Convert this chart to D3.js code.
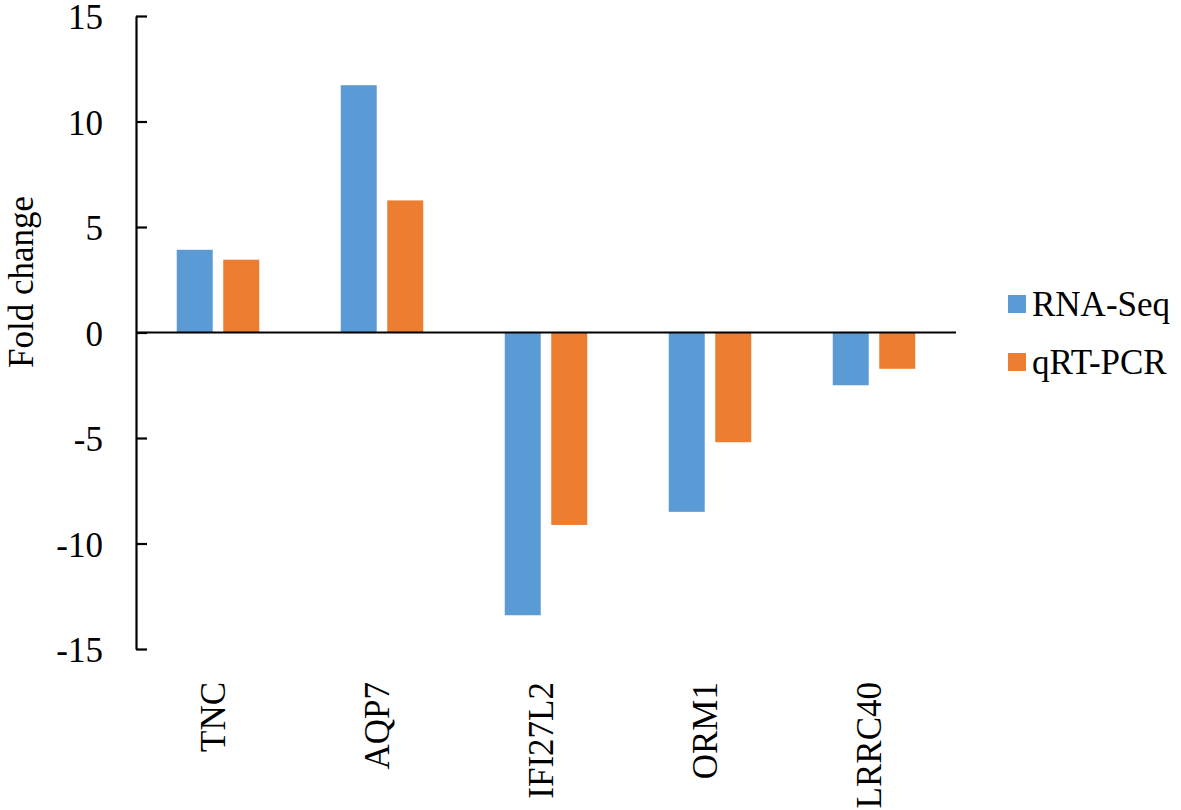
<!DOCTYPE html>
<html>
<head>
<meta charset="utf-8">
<script src="https://cdn.jsdelivr.net/npm/d3@7"></script>
<style>
  body { margin: 0; background: white; }
  text { font-family: "Liberation Serif", "Times New Roman", serif; fill: black; }
</style>
</head>
<body>
<div id="chart"></div>
<script>
const genes = ["TNC", "AQP7", "IFI27L2", "ORM1", "LRRC40"];
const seriesNames = ["RNA-Seq", "qRT-PCR"];
const rnaSeq = [3.92, 11.72, -13.4, -8.5, -2.5];
const qrtPcr = [3.45, 6.26, -9.12, -5.2, -1.72];
const yTicks = [-15, -10, -5, 0, 5, 10, 15];
const colors = ["#5B9BD5", "#ED7D31"];

const W = 1181, H = 810;
const plotLeft = 136, plotRight = 956, plotTop = 16, plotBottom = 649;
const fs = 35;

const svg = d3.select('#chart')
    .append('svg')
    .attr('width', W)
    .attr('height', H);

const y = d3.scaleLinear()
    .domain([-15, 15])
    .range([plotBottom, plotTop]);

const x0 = d3.scaleBand()
    .domain(genes)
    .range([plotLeft, plotRight])
    .padding(0);

const x1 = d3.scaleBand()
    .domain(seriesNames)
    .range([0, x0.bandwidth()])
    .paddingInner(0.226)
    .paddingOuter(0.876);

const rows = genes.map((g, i) => ({ gene: g, values: [rnaSeq[i], qrtPcr[i]] }));

// bars
const groups = svg.selectAll('g.grp')
    .data(rows)
    .join('g')
    .attr('class', 'grp')
    .attr('transform', d => `translate(${x0(d.gene)},0)`);

groups.selectAll('rect')
    .data(d => d.values.map((v, i) => ({ name: seriesNames[i], value: v, i })))
    .join('rect')
    .attr('x', d => x1(d.name))
    .attr('width', x1.bandwidth())
    .attr('y', d => y(Math.max(0, d.value)))
    .attr('height', d => Math.abs(y(d.value) - y(0)))
    .attr('fill', d => colors[d.i]);

// y axis, ticks pointing inward
const yAxis = svg.append('g')
    .attr('transform', `translate(${plotLeft},0)`)
    .call(d3.axisLeft(y).tickValues(yTicks).tickSizeInner(-11).tickSizeOuter(0).tickPadding(33));
yAxis.select('.domain').attr('stroke', 'black').attr('stroke-width', 2.2);
yAxis.selectAll('.tick line').attr('stroke', 'black').attr('stroke-width', 2.2);
yAxis.selectAll('text')
    .style('font-size', fs + 'px')
    .style('font-family', '"Liberation Serif", "Times New Roman", serif')
    .attr('fill', 'black')
    .attr('dy', '0.36em')
    .text(d => d < 0 ? '-' + Math.abs(d) : d);

// zero line
svg.append('line')
    .attr('x1', plotLeft).attr('x2', plotRight)
    .attr('y1', y(0)).attr('y2', y(0))
    .attr('stroke', 'black')
    .attr('stroke-width', 2.2);

// category labels, rotated
svg.selectAll('text.cat')
    .data(genes)
    .join('text')
    .attr('class', 'cat')
    .attr('transform', d => `translate(${x0(d) + x0.bandwidth() / 2 + 7},682) rotate(-90)`)
    .attr('text-anchor', 'end')
    .style('font-size', fs + 'px')
    .text(d => d);

// y title
svg.append('text')
    .attr('transform', `translate(33,282) rotate(-90)`)
    .attr('text-anchor', 'middle')
    .style('font-size', fs + 'px')
    .text('Fold change');

// legend
const legend = svg.selectAll('g.leg')
    .data(seriesNames)
    .join('g')
    .attr('class', 'leg')
    .attr('transform', (d, i) => `translate(1008,${304 + i * 58})`);

legend.append('rect')
    .attr('x', 0).attr('y', -9)
    .attr('width', 18).attr('height', 18)
    .attr('fill', (d, i) => colors[i]);

legend.append('text')
    .attr('x', 24)
    .attr('dy', '0.35em')
    .style('font-size', fs + 'px')
    .text(d => d);
</script>
</body>
</html>
